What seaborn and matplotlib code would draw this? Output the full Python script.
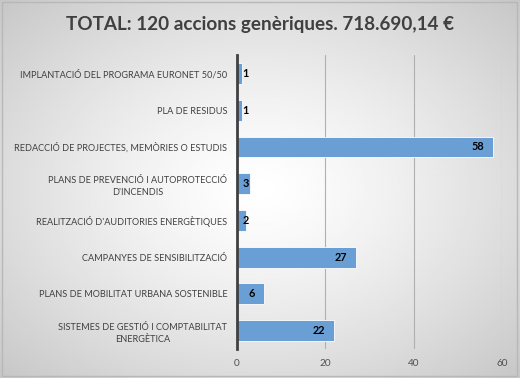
import numpy as np
import pandas as pd
import matplotlib.pyplot as plt
from matplotlib.patches import Rectangle
import seaborn as sns

# Data
categories = [
    "IMPLANTACIÓ DEL PROGRAMA EURONET 50/50",
    "PLA DE RESIDUS",
    "REDACCIÓ DE PROJECTES, MEMÒRIES O ESTUDIS",
    "PLANS DE PREVENCIÓ I AUTOPROTECCIÓ\nD'INCENDIS",
    "REALITZACIÓ D'AUDITORIES ENERGÈTIQUES",
    "CAMPANYES DE SENSIBILITZACIÓ",
    "PLANS DE MOBILITAT URBANA SOSTENIBLE",
    "SISTEMES DE GESTIÓ I COMPTABILITAT\nENERGÈTICA",
]
accions = [1, 1, 58, 3, 2, 27, 6, 22]
x_ticks = [0, 20, 40, 60]
title = "TOTAL: 120 accions genèriques. 718.690,14 €"

df = pd.DataFrame({'categoria': categories, 'accions': accions})

sns.set_style('white')
plt.rcParams['font.family'] = ['Lato', 'DejaVu Sans']

fig = plt.figure(figsize=(5.2, 3.78), dpi=100)

# radial gray background like the office chart style
bg = fig.add_axes([0, 0, 1, 1], zorder=-10)
yy, xx = np.mgrid[-1:1:200j, -1:1:260j]
r = np.sqrt(xx ** 2 + yy ** 2) / np.sqrt(2)
bg.imshow(1 - 0.22 * r ** 1.3, cmap='gray', vmin=0, vmax=1, aspect='auto',
          extent=[0, 1, 0, 1])
bg.add_patch(Rectangle((0.004, 0.006), 0.99, 0.988, fill=False,
                       edgecolor='#b8b8b8', lw=1))
bg.set_axis_off()

ax = fig.add_axes([0.456, 0.077, 0.509, 0.777])
ax.patch.set_alpha(0)
sns.barplot(data=df, x='accions', y='categoria', orient='h', color='#6a9fd6',
            saturation=1, width=0.57, edgecolor='white', linewidth=0.6, ax=ax)

ax.set_xlim(0, 60)
ax.set_xticks(x_ticks)
ax.grid(axis='x', color='#b0b0b0', lw=0.8)
ax.set_axisbelow(True)
for s in ['top', 'right', 'bottom']:
    ax.spines[s].set_visible(False)
ax.spines['left'].set_color('#404040')
ax.spines['left'].set_linewidth(2)
ax.tick_params(axis='both', length=0)
ax.tick_params(axis='y', pad=7, labelsize=6.6, labelcolor='#404040')
ax.tick_params(axis='x', pad=7, labelsize=7.2, labelcolor='#505050')
for lab in ax.get_yticklabels():
    lab.set_multialignment('center')
    lab.set_linespacing(1.5)
ax.set_xlabel('')
ax.set_ylabel('')

# value labels
for i, v in enumerate(accions):
    if v >= 5:
        ax.text(v - 2, i, str(v), ha='right', va='center', fontsize=7.8,
                fontweight='bold', color='black')
    else:
        ax.text(1.2, i, str(v), ha='left', va='center', fontsize=7.8,
                fontweight='bold', color='black')

fig.text(0.5, 0.934, title, ha='center', va='center', fontsize=13.6,
         fontweight='bold', color='#404040')

plt.savefig('out.png', dpi=100)
